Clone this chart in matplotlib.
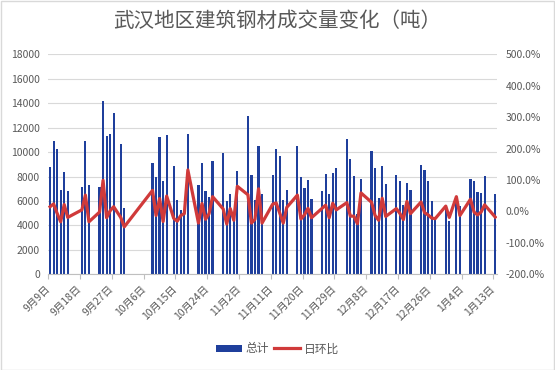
import matplotlib
matplotlib.use('Agg')
import matplotlib.pyplot as plt
import numpy as np
import pandas as pd
from matplotlib.patches import Rectangle, Patch
from matplotlib.lines import Line2D

plt.rcParams['font.family'] = ['Noto Sans CJK SC', 'DejaVu Sans']

title = '武汉地区建筑钢材成交量变化（吨）'
series_names = ['总计', '日环比']

dates = [
    '2019-09-09', '2019-09-10', '2019-09-11', '2019-09-12', '2019-09-13', '2019-09-14',
    '2019-09-18', '2019-09-19', '2019-09-20',
    '2019-09-23', '2019-09-24', '2019-09-25', '2019-09-26', '2019-09-27',
    '2019-09-29', '2019-09-30',
    '2019-10-08', '2019-10-09', '2019-10-10', '2019-10-11', '2019-10-12',
    '2019-10-14', '2019-10-15', '2019-10-16', '2019-10-17', '2019-10-18',
    '2019-10-21', '2019-10-22', '2019-10-23', '2019-10-24', '2019-10-25',
    '2019-10-28', '2019-10-29', '2019-10-30', '2019-10-31', '2019-11-01',
    '2019-11-04', '2019-11-05', '2019-11-06', '2019-11-07', '2019-11-08',
    '2019-11-11', '2019-11-12', '2019-11-13', '2019-11-14', '2019-11-15',
    '2019-11-18', '2019-11-19', '2019-11-20', '2019-11-21', '2019-11-22',
    '2019-11-25', '2019-11-26', '2019-11-27', '2019-11-28', '2019-11-29',
    '2019-12-02', '2019-12-03', '2019-12-04', '2019-12-05', '2019-12-06',
    '2019-12-09', '2019-12-10', '2019-12-11', '2019-12-12', '2019-12-13',
    '2019-12-16', '2019-12-17', '2019-12-18', '2019-12-19', '2019-12-20',
    '2019-12-23', '2019-12-24', '2019-12-25', '2019-12-26', '2019-12-27',
    '2019-12-30', '2019-12-31',
    '2020-01-02', '2020-01-03',
    '2020-01-06', '2020-01-07', '2020-01-08', '2020-01-09', '2020-01-10',
    '2020-01-13',
]

totals = [
    8800, 10900, 10250, 6900, 8400, 6800,
    7150, 10900, 7300,
    7150, 14200, 11300, 11500, 13200,
    10700, 5450,
    9100, 7950, 11200, 7650, 11400,
    8900, 6100, 5300, 4950, 11500,
    7300, 9100, 6800, 6300, 9250,
    9950, 6000, 6550, 4700, 8450,
    12950, 8100, 6100, 10500, 6600,
    8100, 10250, 9700, 6100, 6900,
    10500, 7950, 7050, 7750, 6200,
    6850, 8200, 6600, 8300, 8700,
    11100, 9450, 8050, 4900, 7800,
    10050, 8700, 6250, 8850, 7400,
    8100, 7600, 5650, 7450, 6900,
    8950, 8550, 7600, 6000, 4600,
    5400, 4350,
    6400, 5580,
    7780, 7610, 6760, 6620, 8020,
    6570,
]

dod_pct = [
    15, 24, -6, -33, 22, -19,
    5, 52, -33,
    -2, 99, -20, 2, 15,
    -19, -49,
    67, -13, 41, -32, 49,
    -22, -31, -13, -7, 132,
    -37, 25, -25, -7, 47,
    8, -40, 9, -28, 80,
    53, -37, -25, 72, -37,
    23, 27, -5, -37, 13,
    52, -24, -11, 10, -20,
    10, 20, -20, 26, 5,
    28, -15, -15, -39, 59,
    29, -13, -28, 42, -16,
    9, -6, -26, 32, -7,
    30, -4, -11, -21, -23,
    17, -19,
    47, -13,
    39, -2, -11, -2, 21,
    -18,
]

tick_labels = ['9月9日', '9月18日', '9月27日', '10月6日', '10月15日', '10月24日',
               '11月2日', '11月11日', '11月20日', '11月29日', '12月8日', '12月17日',
               '12月26日', '1月4日', '1月13日']

start = pd.Timestamp('2019-09-09')
end = pd.Timestamp('2020-01-14')
x = (pd.to_datetime(dates) - start).days.values + 0.5
span = (end - start).days

bar_color = '#1F3F9C'
line_color = '#D03A3A'
text_color = '#595959'

fig = plt.figure(figsize=(5.55, 3.7), dpi=100)
fig.patch.set_facecolor('white')
fig.add_artist(Rectangle((0.001, 0.001), 0.997, 0.997, transform=fig.transFigure,
                         fill=False, edgecolor='#D9D9D9', linewidth=1.0))

ax = fig.add_axes([48.3 / 555, 1 - 274.3 / 370, (497 - 48.3) / 555, 220 / 370])
ax.bar(x, totals, width=0.62, color=bar_color, zorder=2)
ax.set_ylim(0, 18000)
ax.set_yticks(np.arange(0, 18001, 2000))
ax.set_xlim(0, span)
ax.set_xticks(np.arange(0, span, 9))
ax.set_xticklabels(tick_labels, rotation=45, ha='right', va='center',
                   rotation_mode='anchor', fontsize=7.5, color=text_color)
ax.grid(axis='y', color='#D9D9D9', linewidth=0.8, zorder=0)
ax.set_axisbelow(True)
for s in ['top', 'right', 'left']:
    ax.spines[s].set_visible(False)
ax.spines['bottom'].set_color('#BFBFBF')
ax.tick_params(axis='x', length=3.5, color='#BFBFBF', pad=6)
ax.tick_params(axis='y', length=0, labelsize=7.5, labelcolor=text_color, pad=6)

ax2 = ax.twinx()
ax2.plot(x, dod_pct, color=line_color, linewidth=2.3, solid_joinstyle='round', zorder=3)
ax2.set_ylim(-200, 500)
ax2.set_yticks(np.arange(-200, 501, 100))
ax2.set_yticklabels([f'{v:.1f}%' for v in np.arange(-200, 501, 100)])
for s in ['top', 'right', 'left', 'bottom']:
    ax2.spines[s].set_visible(False)
ax2.tick_params(axis='y', length=0, labelsize=7.5, labelcolor=text_color, pad=6)

fig.text(0.5, 0.943, title, ha='center', va='center', fontsize=14.8, color=text_color)

handles = [Patch(facecolor=bar_color, edgecolor='none'),
           Line2D([0], [0], color=line_color, linewidth=2.3)]
fig.legend(handles, series_names, loc='center', bbox_to_anchor=(0.5, 0.057), ncol=2,
           frameon=False, fontsize=8.5, labelcolor=text_color, handlelength=2.2,
           handleheight=0.6, columnspacing=0.4, handletextpad=0.3)

fig.savefig('out.png', dpi=100, facecolor='white')
